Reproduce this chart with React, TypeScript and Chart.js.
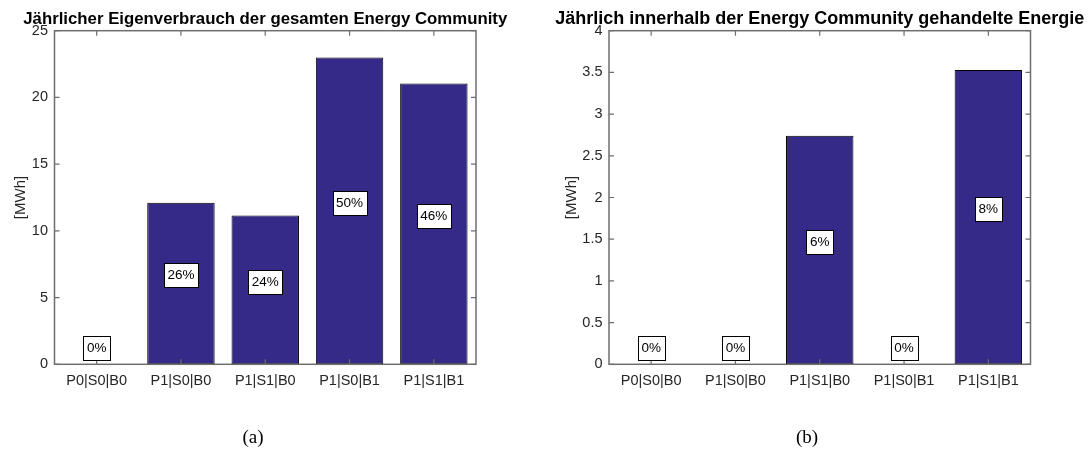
import React, { useEffect, useRef } from 'react';
import { Chart, registerables } from 'chart.js';

Chart.register(...registerables);

// Scenario categories shared by both panels
const categories = ['P0|S0|B0', 'P1|S0|B0', 'P1|S1|B0', 'P1|S0|B1', 'P1|S1|B1'];

// (a) annual self-consumption [MWh] and its share
const selfConsumption = [0, 12.1, 11.15, 23.0, 21.05];
const selfConsumptionShare = [0, 26, 24, 50, 46];
const selfConsumptionTicks = [0, 5, 10, 15, 20, 25];

// (b) energy traded inside the community [MWh] and its share
const tradedEnergy = [0, 0, 2.74, 0, 3.53];
const tradedShare = [0, 0, 6, 0, 8];
const tradedTicks = [0, 0.5, 1, 1.5, 2, 2.5, 3, 3.5, 4];

const titleA = 'Jährlicher Eigenverbrauch der gesamten Energy Community';
const titleB = 'Jährlich innerhalb der Energy Community gehandelte Energie';

const FONT = '"Liberation Sans", Arial, Helvetica, sans-serif';
const BAR_COLOR = '#352A87';
const TEXT_COLOR = '#262626';
const AXIS_COLOR = '#6e6e6e';

// Box, inward tick marks, title and percentage labels in MATLAB style
const figurePlugin = {
  id: 'figureDecor',
  afterDatasetsDraw(chart: any, _args: any, opts: any) {
    const { ctx, chartArea } = chart;
    const { left, right, top, bottom } = chartArea;
    const xs = chart.scales.x;
    const ys = chart.scales.y;
    const tl = 5;
    ctx.save();

    // tick marks on all four sides
    ctx.strokeStyle = AXIS_COLOR;
    ctx.lineWidth = 1.2;
    ctx.beginPath();
    xs.ticks.forEach((_t: any, i: number) => {
      const px = xs.getPixelForTick(i);
      ctx.moveTo(px, bottom);
      ctx.lineTo(px, bottom - tl);
      ctx.moveTo(px, top);
      ctx.lineTo(px, top + tl);
    });
    ys.ticks.forEach((t: any) => {
      const py = ys.getPixelForValue(t.value);
      ctx.moveTo(left, py);
      ctx.lineTo(left + tl, py);
      ctx.moveTo(right, py);
      ctx.lineTo(right - tl, py);
    });
    ctx.stroke();

    // axes box
    ctx.lineWidth = 1.5;
    ctx.strokeRect(left, top, right - left, bottom - top);

    // title above the axes
    ctx.fillStyle = '#000';
    ctx.font = `bold ${opts.titleSize}px ${FONT}`;
    ctx.textAlign = 'center';
    ctx.textBaseline = 'alphabetic';
    ctx.fillText(opts.title, (left + right) / 2, 23.5);

    // percentage labels in white boxes
    const values: number[] = chart.data.datasets[0].data;
    const shares: number[] = opts.shares;
    const base = ys.getPixelForValue(0);
    ctx.font = `13.5px ${FONT}`;
    ctx.textBaseline = 'middle';
    values.forEach((v, i) => {
      const cx = xs.getPixelForValue(i);
      const cy = Math.min(ys.getPixelForValue(v / 2), base - opts.zeroLift) - 8.3;
      const text = `${shares[i]}%`;
      const w = ctx.measureText(text).width + 7;
      const h = 24;
      const x0 = Math.round(cx - w / 2) + 0.5;
      const y0 = Math.round(cy - h / 2) + 0.5;
      ctx.fillStyle = '#fff';
      ctx.fillRect(x0, y0, Math.round(w), h);
      ctx.strokeStyle = '#000';
      ctx.lineWidth = 1;
      ctx.strokeRect(x0, y0, Math.round(w), h);
      ctx.fillStyle = '#000';
      ctx.fillText(text, cx, cy + 0.5);
    });
    ctx.restore();
  },
};

type PanelProps = {
  values: number[];
  shares: number[];
  ticks: number[];
  title: string;
  titleSize: number;
  offsetX: number;
  yAxisWidth: number;
  yTitlePad: number;
  rightPad: number;
};

function Panel({ values, shares, ticks, title, titleSize, offsetX, yAxisWidth, yTitlePad, rightPad }: PanelProps) {
  const ref = useRef<HTMLCanvasElement | null>(null);

  useEffect(() => {
    if (!ref.current) return;
    const chart = new Chart(ref.current, {
      type: 'bar',
      data: {
        labels: categories,
        datasets: [
          {
            data: values,
            backgroundColor: BAR_COLOR,
            borderColor: '#000',
            borderWidth: 1,
            borderSkipped: false,
            barPercentage: 0.8,
            categoryPercentage: 1,
          },
        ],
      },
      options: {
        responsive: false,
        animation: false,
        events: [],
        layout: { padding: { left: 0, right: rightPad, top: 30.7, bottom: 0 } },
        plugins: {
          legend: { display: false },
          title: { display: false },
          tooltip: { enabled: false },
          figureDecor: { title, titleSize, shares, zeroLift: 8 },
        } as any,
        scales: {
          x: {
            type: 'category',
            offset: true,
            grid: { display: false, drawTicks: false },
            border: { display: false },
            ticks: { color: TEXT_COLOR, font: { family: FONT, size: 14.5 }, padding: 8, maxRotation: 0, autoSkip: false },
            afterFit: (s: any) => {
              s.height = 454 - 364.3;
            },
          },
          y: {
            min: ticks[0],
            max: ticks[ticks.length - 1],
            grid: { display: false, drawTicks: false },
            border: { display: false },
            ticks: {
              color: TEXT_COLOR,
              font: { family: FONT, size: 14.5 },
              padding: 6.5,
              callback: (v: any) => String(v),
            },
            afterBuildTicks: (s: any) => {
              s.ticks = ticks.map((v) => ({ value: v }));
            },
            title: {
              display: true,
              text: '[MWh]',
              color: TEXT_COLOR,
              font: { family: FONT, size: 15 },
              padding: { top: yTitlePad, bottom: 0 },
            },
            afterFit: (s: any) => {
              s.width = yAxisWidth;
            },
          },
        },
      },
      plugins: [figurePlugin],
    });
    return () => chart.destroy();
  }, []);

  return (
    <canvas
      ref={ref}
      width={546}
      height={454}
      style={{ position: 'absolute', left: offsetX, top: 0, width: 546, height: 454 }}
    />
  );
}

const captionStyle: React.CSSProperties = {
  position: 'absolute',
  top: 426,
  width: 80,
  textAlign: 'center',
  fontFamily: '"Liberation Serif", "DejaVu Serif", serif',
  fontSize: 19,
  lineHeight: '22px',
  color: '#000',
};

export default function App() {
  return (
    <div style={{ position: 'absolute', left: 0, top: 0, width: 1092, height: 454, background: '#fff' }}>
      <Panel
        values={selfConsumption}
        shares={selfConsumptionShare}
        ticks={selfConsumptionTicks}
        title={titleA}
        titleSize={16.8}
        offsetX={0}
        yAxisWidth={54.5}
        yTitlePad={12}
        rightPad={70}
      />
      <Panel
        values={tradedEnergy}
        shares={tradedShare}
        ticks={tradedTicks}
        title={titleB}
        titleSize={18}
        offsetX={546}
        yAxisWidth={63}
        yTitlePad={17}
        rightPad={61.5}
      />
      <div style={{ ...captionStyle, left: 253 - 40 }}>(a)</div>
      <div style={{ ...captionStyle, left: 807 - 40 }}>(b)</div>
    </div>
  );
}
